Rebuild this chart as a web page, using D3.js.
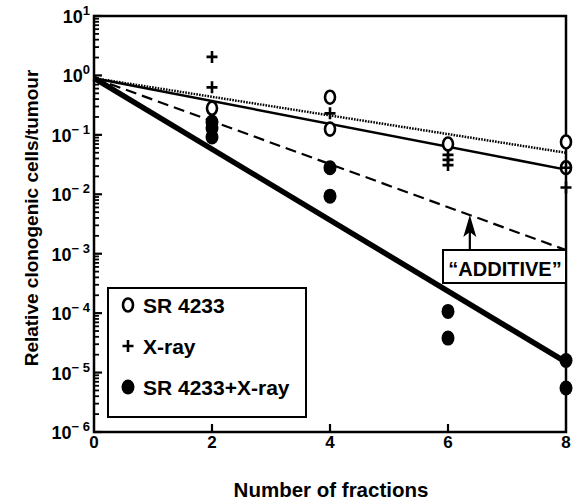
<!DOCTYPE html>
<html>
<head>
<meta charset="utf-8">
<script src="https://cdn.jsdelivr.net/npm/d3@7"></script>
<style>
  body { margin: 0; background: #fff; }
  text { font-family: "Liberation Sans", Arial, sans-serif; font-weight: bold; fill: #000; }
</style>
</head>
<body>
<div id="chart"></div>
<script>
/** data */
var fitX = [0, 8];
var xrayFit = [0.9, 0.05];
var srFit = [0.9, 0.026];
var additiveFit = [0.9, 0.00115];
var comboFit = [0.9, 1.5e-5];

var srX = [2, 4, 4, 6, 8, 8];
var srY = [0.28, 0.43, 0.125, 0.07, 0.076, 0.028];
var xrayX = [2, 2, 4, 6, 6, 6, 8, 8];
var xrayY = [2.05, 0.63, 0.23, 0.046, 0.038, 0.031, 0.028, 0.013];
var comboX = [2, 2, 2, 4, 4, 6, 6, 8, 8];
var comboY = [0.165, 0.13, 0.092, 0.028, 0.0093, 1.07e-4, 3.8e-5, 1.6e-5, 5.5e-6];

var xTicks = [0, 2, 4, 6, 8];
var yExponents = [1, 0, -1, -2, -3, -4, -5, -6];
var legendLabels = ["SR 4233", "X-ray", "SR 4233+X-ray"];
var arrowAt = 6.37;

var W = 577, H = 503;
/** plot box (window.top is reserved, so prefixed names) */
var pL = 94, pR = 566, pT = 16, pB = 432;

var svg = d3.select("#chart").append("svg").attr("width", W).attr("height", H);
svg.append("rect").attr("width", W).attr("height", H).attr("fill", "#fff");

var x = d3.scaleLinear().domain([0, 8]).range([pL, pR]);
var y = d3.scaleLog().domain([1e-6, 10]).range([pB, pT]);

/** log ticks on the left axis, pointing inward */
var minor = [];
for (var e = -6; e < 1; e++) {
  for (var m = 2; m < 10; m++) minor.push(m * Math.pow(10, e));
}
svg.selectAll(".minor").data(minor).enter().append("line")
  .attr("x1", pL).attr("x2", pL + 5)
  .attr("y1", function (d) { return y(d); }).attr("y2", function (d) { return y(d); })
  .attr("stroke", "#000").attr("stroke-width", 1.8);
svg.selectAll(".major").data(yExponents).enter().append("line")
  .attr("x1", pL).attr("x2", pL + 8)
  .attr("y1", function (d) { return y(Math.pow(10, d)); }).attr("y2", function (d) { return y(Math.pow(10, d)); })
  .attr("stroke", "#000").attr("stroke-width", 2.2);

var yl = svg.selectAll(".ylab").data(yExponents).enter().append("text")
  .attr("x", 90).attr("y", function (d) { return y(Math.pow(10, d)) + 7; })
  .attr("text-anchor", "end").style("font-size", "18px");
yl.append("tspan").text("10");
yl.append("tspan").attr("dy", -8).style("font-size", "13px")
  .text(function (d) { return d < 0 ? "\u2212 " + (-d) : String(d); });

/** x ticks */
svg.selectAll(".xt").data([2, 4, 6]).enter().append("line")
  .attr("x1", function (d) { return x(d); }).attr("x2", function (d) { return x(d); })
  .attr("y1", pB).attr("y2", pB - 8)
  .attr("stroke", "#000").attr("stroke-width", 2.2);
svg.selectAll(".xlab").data(xTicks).enter().append("text")
  .attr("x", function (d) { return x(d); }).attr("y", 448)
  .attr("text-anchor", "middle").style("font-size", "17px")
  .text(function (d) { return d; });

/** axis titles */
svg.append("text").attr("x", 331).attr("y", 497).attr("text-anchor", "middle")
  .style("font-size", "20.5px").text("Number of fractions");
svg.append("text").attr("transform", "translate(38,218) rotate(-90)")
  .attr("text-anchor", "middle").style("font-size", "19px")
  .text("Relative clonogenic cells/tumour");

/** fitted lines */
function fitLine(vals, width, dash) {
  var line = d3.line().x(function (d, i) { return x(fitX[i]); }).y(function (d) { return y(d); });
  svg.append("path").datum(vals).attr("d", line)
    .attr("fill", "none").attr("stroke", "#000").attr("stroke-width", width)
    .attr("stroke-dasharray", dash);
}
fitLine(xrayFit, 2.5, "1.6 1.2");
fitLine(srFit, 2.5, null);
fitLine(additiveFit, 2.2, "11 6");
fitLine(comboFit, 5.5, null);

/** frame */
svg.append("rect")
  .attr("x", pL).attr("y", pT)
  .attr("width", pR - pL).attr("height", pB - pT)
  .attr("fill", "none").attr("stroke", "#000").attr("stroke-width", 2.5);

/** arrow to the additive line */
var ay = y(Math.pow(10, d3.interpolate(Math.log10(additiveFit[0]), Math.log10(additiveFit[1]))(arrowAt / 8)));
var ax = x(arrowAt);
svg.append("line").attr("x1", ax).attr("x2", ax).attr("y1", 250).attr("y2", ay + 14)
  .attr("stroke", "#000").attr("stroke-width", 2.2);
svg.append("path")
  .attr("d", "M" + ax + "," + ay + " L" + (ax + 6.5) + "," + (ay + 22) + " L" + ax + "," + (ay + 17) + " L" + (ax - 6.5) + "," + (ay + 22) + "Z")
  .attr("fill", "#000");
svg.append("rect").attr("x", 443).attr("y", 250).attr("width", pR - 443).attr("height", 33)
  .attr("fill", "#fff").attr("stroke", "#000").attr("stroke-width", 2);
svg.append("text").attr("x", 505).attr("y", 276).attr("text-anchor", "middle")
  .style("font-size", "20px").text("\u201CADDITIVE\u201D");

/** markers */
function openO(g, cx, cy) {
  g.append("ellipse").attr("cx", cx).attr("cy", cy).attr("rx", 5).attr("ry", 6.5)
    .attr("fill", "#fff").attr("stroke", "#000").attr("stroke-width", 2.6);
}
function plus(g, cx, cy) {
  g.append("path").attr("d", "M" + (cx - 5.5) + "," + cy + "H" + (cx + 5.5) + "M" + cx + "," + (cy - 6) + "V" + (cy + 6))
    .attr("stroke", "#000").attr("stroke-width", 2.6);
}
function dot(g, cx, cy) {
  g.append("ellipse").attr("cx", cx).attr("cy", cy).attr("rx", 6.5).attr("ry", 7.5).attr("fill", "#000");
}
var pts = svg.append("g");
srX.forEach(function (d, i) { openO(pts, x(d), y(srY[i])); });
xrayX.forEach(function (d, i) { plus(pts, x(d), y(xrayY[i])); });
comboX.forEach(function (d, i) { dot(pts, x(d), y(comboY[i])); });

/** legend */
var lg = svg.append("g");
lg.append("rect").attr("x", 108).attr("y", 288).attr("width", 198).attr("height", 129)
  .attr("fill", "#fff").attr("stroke", "#000").attr("stroke-width", 2);
var makers = [openO, plus, dot];
legendLabels.forEach(function (t, i) {
  var cy = 305 + i * 41;
  makers[i](lg, 128, cy);
  lg.append("text").attr("x", 143).attr("y", cy + 7.5).style("font-size", "21px").text(t);
});
</script>
</body>
</html>
